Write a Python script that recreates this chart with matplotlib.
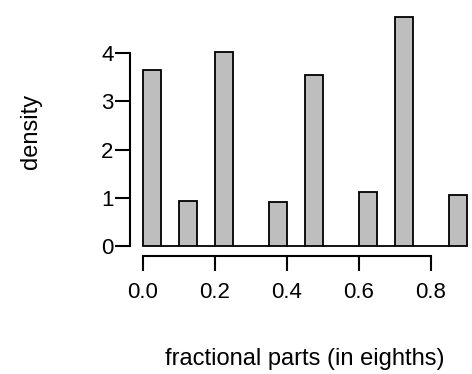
import matplotlib
matplotlib.use("Agg")
import matplotlib.pyplot as plt
import numpy as np

# Histogram of fractional parts (bins of width 0.05)
bin_edges = [0.00, 0.05, 0.10, 0.15, 0.20, 0.25, 0.30, 0.35, 0.40, 0.45,
             0.50, 0.55, 0.60, 0.65, 0.70, 0.75, 0.80, 0.85, 0.90]
density = [3.64, 0.0, 0.94, 0.0, 4.01, 0.0, 0.0, 0.92, 0.0, 3.53,
           0.0, 0.0, 1.12, 0.0, 4.74, 0.0, 0.0, 1.05]
x_ticks = [0.0, 0.2, 0.4, 0.6, 0.8]
x_tick_labels = ["0.0", "0.2", "0.4", "0.6", "0.8"]
y_ticks = [0, 1, 2, 3, 4]
y_tick_labels = ["0", "1", "2", "3", "4"]
x_label = "fractional parts (in eighths)"
y_label = "density"

plt.rcParams['font.family'] = ['Liberation Sans', 'DejaVu Sans']

W, H = 472, 374
fig = plt.figure(figsize=(W / 100, H / 100), dpi=100)
left, right, top, bottom = 130, 479.7, 7.7, 255.5
ax = fig.add_axes([left / W, 1 - bottom / H, (right - left) / W, (bottom - top) / H])

lefts = np.array(bin_edges[:-1])
widths = np.diff(bin_edges)
ax.bar(lefts, density, width=widths, align='edge', color='#BEBEBE',
       edgecolor='black', linewidth=1.3)

ax.set_xlim(-0.036, 0.936)
ax.set_ylim(-0.1896, 4.9296)

for s in ['top', 'right']:
    ax.spines[s].set_visible(False)
ax.spines['left'].set_bounds(0, 4)
ax.spines['bottom'].set_bounds(0, 0.8)
for s in ['left', 'bottom']:
    ax.spines[s].set_linewidth(1.5)

ax.set_xticks(x_ticks)
ax.set_xticklabels(x_tick_labels)
ax.set_yticks(y_ticks)
ax.set_yticklabels(y_tick_labels)
ax.tick_params(axis='both', direction='out', length=10.8, width=1.5,
               labelsize=16)
ax.tick_params(axis='x', pad=8.5)
ax.tick_params(axis='y', pad=1.0)

fig.text((left + right) / 2 / W, 1 - 358.5 / H, x_label, ha='center',
         va='center', fontsize=17)
fig.text(31 / W, 1 - 131 / H, y_label, ha='center', va='center',
         rotation=90, fontsize=17)

fig.savefig("out.png", dpi=100)
